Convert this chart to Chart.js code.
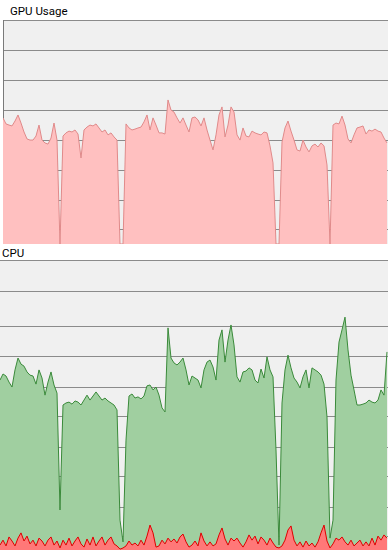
<!DOCTYPE html>
<html><head><meta charset="utf-8">
<script src="https://cdn.jsdelivr.net/npm/chart.js@4.4.1/dist/chart.umd.min.js"></script>
<style>
html,body{margin:0;padding:0;background:#fff;width:388px;height:550px;overflow:hidden;}
.t{position:absolute;font-family:Roboto,"Liberation Sans",Arial,sans-serif;font-size:11.5px;line-height:14px;color:#000;white-space:nowrap;}
canvas{position:absolute;display:block;}
</style></head><body>
<div class="t" style="left:10px;top:4px">GPU Usage</div>
<canvas id="gpu" width="385" height="224" style="left:3px;top:20px"></canvas>
<div class="t" style="left:2px;top:246px">CPU</div>
<canvas id="cpu" width="388" height="290" style="left:0;top:260px"></canvas>
<script>
// sample index (one sample per time step)
const seconds = Array.from({length: 130}, (_, i) => i);

// GPU usage, %
const gpuUsage = [
  56.3, 56.3, 53.6, 53.1, 52.7, 54.9, 57.6, 54.0, 50.0, 46.9,
  46.4, 46.4, 48.2, 53.1, 46.4, 45.1, 44.6, 47.3, 54.0, 46.4,
  0, 48.2, 49.6, 50.4, 50.0, 50.9, 49.1, 38.4, 50.9, 52.2,
  53.1, 52.7, 53.6, 51.8, 50.0, 50.9, 48.7, 49.6, 47.8, 46.4,
  0, 0, 53.6, 51.8, 50.9, 51.3, 51.8, 52.2, 54.5, 57.6,
  50.9, 56.3, 53.1, 49.6, 49.6, 49.1, 64.3, 59.8, 58.9, 56.3,
  54.0, 56.3, 53.1, 50.0, 56.3, 56.7, 55.4, 52.7, 56.3, 50.9,
  46.4, 42.0, 48.7, 57.6, 61.2, 47.8, 53.1, 61.2, 58.9, 48.7,
  46.4, 51.8, 48.2, 47.8, 50.4, 49.6, 49.1, 48.7, 50.0, 49.6,
  43.8, 36.2, 0, 0, 45.5, 51.8, 54.9, 50.4, 46.4, 42.0,
  41.5, 46.4, 43.3, 41.1, 43.8, 44.6, 43.3, 45.1, 43.8, 35.3,
  0, 53.1, 54.0, 53.6, 57.1, 53.1, 46.9, 45.1, 48.7, 51.8,
  52.2, 52.7, 49.1, 50.9, 50.4, 51.3, 50.4, 50.0, 47.3, 45.1
];

// CPU total, %
const cpuTotal = [
  58.6, 60.7, 60.0, 57.9, 56.2, 62.1, 66.2, 64.1, 63.4, 61.4,
  60.3, 60.0, 57.2, 62.1, 59.3, 53.4, 57.9, 61.4, 56.9, 54.1,
  13.8, 50.0, 50.7, 51.0, 50.3, 51.4, 51.0, 50.0, 51.7, 53.4,
  51.7, 53.1, 54.5, 53.1, 51.7, 52.4, 51.4, 50.7, 50.0, 48.3,
  10.3, 2.8, 37.9, 53.1, 53.8, 52.4, 52.8, 52.1, 53.1, 56.6,
  56.9, 55.2, 56.2, 53.4, 49.0, 47.6, 76.6, 66.2, 64.5, 63.8,
  64.8, 66.2, 62.1, 56.9, 60.0, 59.3, 58.6, 55.9, 62.1, 64.8,
  65.5, 63.1, 58.6, 72.4, 75.9, 64.8, 72.4, 77.6, 70.7, 59.7,
  57.9, 61.4, 61.7, 62.8, 62.1, 58.6, 57.6, 62.4, 59.3, 66.6,
  62.1, 59.7, 34.5, 1.7, 50.7, 62.1, 67.2, 62.8, 59.3, 57.9,
  55.9, 59.7, 62.1, 55.9, 62.8, 62.1, 61.4, 60.3, 57.2, 45.9,
  4.1, 10.3, 58.6, 71.7, 75.9, 80.3, 69.0, 60.3, 55.2, 50.0,
  50.0, 50.3, 50.7, 51.7, 51.0, 50.7, 51.7, 55.2, 53.4, 68.3
];

// CPU secondary (red) series, %
const cpuKernel = [
  1.7, 3.4, 1.4, 4.5, 3.1, 1.4, 4.1, 5.9, 3.1, 4.8,
  2.1, 3.4, 1.4, 4.1, 3.1, 1.4, 3.4, 4.5, 1.7, 3.1,
  0.7, 3.4, 1.7, 4.1, 1.4, 3.1, 4.5, 2.1, 1.0, 3.8,
  1.7, 4.5, 1.4, 3.1, 4.5, 1.7, 3.4, 4.5, 2.1, 1.4,
  0.3, 0.7, 1.4, 3.1, 1.7, 2.4, 1.4, 3.4, 1.7, 4.8,
  8.6, 5.9, 1.0, 1.4, 3.4, 2.1, 4.1, 2.8, 3.8, 2.4,
  4.5, 5.5, 2.8, 1.0, 1.7, 3.1, 1.4, 5.9, 3.1, 1.4,
  2.8, 1.4, 2.1, 5.2, 7.6, 3.8, 1.7, 4.1, 3.1, 4.1,
  2.4, 1.0, 2.8, 5.2, 3.4, 4.8, 2.1, 4.5, 3.4, 1.7,
  4.1, 2.4, 1.0, 0.7, 1.4, 3.4, 6.9, 8.3, 3.4, 1.4,
  2.8, 1.0, 3.1, 1.4, 2.4, 1.0, 2.8, 5.9, 8.6, 3.1,
  0.7, 2.1, 4.1, 3.4, 4.5, 2.8, 1.7, 3.4, 1.4, 2.4,
  3.4, 1.4, 2.8, 1.4, 4.1, 1.7, 4.8, 3.4, 5.2, 4.1
];

// gridline levels (%)
const gpuGrid = [100, 86.6, 73.2, 59.8, 46.4, 33.0, 19.6, 6.3];
const cpuGrid = [100, 89.0, 77.2, 66.6, 56.2, 45.9, 35.5, 25.2, 14.8, 4.5];

const plotBg = {
  id: 'plotBg',
  beforeDraw(c) {
    const {ctx, chartArea: a} = c;
    ctx.save();
    ctx.fillStyle = '#f0f0f0';
    ctx.fillRect(a.left, a.top, a.right - a.left, a.bottom - a.top);
    ctx.restore();
  }
};

function pts(vals) { return vals.map((v, i) => ({x: seconds[i], y: v})); }

function makeChart(id, datasets, grid, xMin, leftBorder) {
  return new Chart(document.getElementById(id), {
    type: 'line',
    data: {datasets},
    options: {
      responsive: false, animation: false, devicePixelRatio: 1, events: [],
      layout: {padding: 0},
      plugins: {legend: {display: false}, tooltip: {enabled: false}, title: {display: false}},
      elements: {point: {radius: 0}, line: {tension: 0, borderWidth: 1}},
      scales: {
        x: {type: 'linear', min: xMin, max: 388 / 3, display: false},
        y: {
          type: 'linear', min: 0, max: 100, display: true, z: 1,
          afterBuildTicks: s => { s.ticks = grid.map(v => ({value: v})); },
          ticks: {display: false},
          grid: {color: 'rgba(0,0,0,0.42)', lineWidth: 1, drawTicks: false},
          border: {display: leftBorder, color: '#7a7a7a', width: 1}
        }
      }
    },
    plugins: [plotBg]
  });
}

makeChart('gpu', [{
  data: pts(gpuUsage), borderColor: '#e08a8a', backgroundColor: '#ffc0c0', fill: 'origin'
}], gpuGrid, 1, true);

makeChart('cpu', [{
  data: pts(cpuKernel), borderColor: '#e00000', backgroundColor: '#ff7878', fill: 'origin'
}, {
  data: pts(cpuTotal), borderColor: '#3a8a3a', backgroundColor: '#a0cfa0', fill: 'origin'
}], cpuGrid, 0, false);
</script>
</body></html>
